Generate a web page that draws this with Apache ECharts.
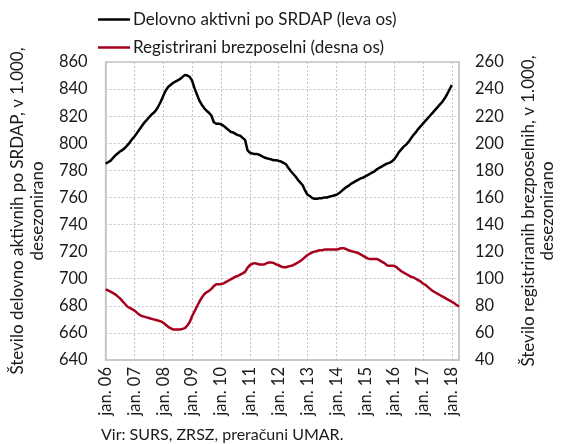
<!DOCTYPE html>
<html>
<head>
<meta charset="utf-8">
<script src="https://cdn.jsdelivr.net/npm/echarts@6/dist/echarts.min.js"></script>
<style>
  html, body { margin: 0; padding: 0; background: #fff; }
  #chart { width: 565px; height: 444px; }
</style>
</head>
<body>
<div id="chart"></div>
<script>
// monthly, jan. 2006 .. apr. 2018
const startYear = 2006;
const monthCount = 148;
const months = [];
for (let i = 0; i < monthCount; i++) {
  const y = startYear + Math.floor(i / 12);
  months.push((i % 12 === 0 ? 'jan. ' : (i % 12 + 1) + '. ') + String(y).slice(2));
}

// Delovno aktivni po SRDAP (leva os), v 1.000
const employed = [
  785, 786, 787, 789, 791, 792.5, 794, 795, 796.5, 798.5, 800.5, 803,
  805, 807.5, 810, 812.5, 815, 817, 819, 821, 822.5, 824.5, 827.5, 831,
  835, 839, 841.5, 843, 844.5, 845.5, 846.5, 847.5, 849, 850.5, 850, 849,
  846, 840.5, 836, 831.5, 828.5, 826, 824, 822.5, 820.5, 815.5, 814.5, 814.5,
  814, 813, 811.5, 810, 808.5, 808, 807, 806, 805.5, 804, 802.5, 795,
  793, 792.5, 792, 792, 791.5, 790.5, 789.5, 789, 788.5, 788, 787.5, 787.5,
  787, 786.5, 785.5, 784.5, 782, 779.5, 777.5, 775.5, 773, 771, 769, 765,
  762, 761, 759.5, 759, 759, 759.5, 759.5, 760, 760, 760.5, 761, 761.5,
  762, 763, 764.5, 766, 767.5, 768.5, 770, 771, 772, 773, 774, 774.5,
  775.5, 776.5, 777.5, 778.5, 779.5, 781, 782, 783, 784, 785, 785.5, 786.5,
  788, 790.5, 793.5, 795.5, 797.5, 799, 801, 803.5, 806, 808, 810.5, 812.5,
  814.5, 816.5, 818.5, 820.5, 822.5, 824.5, 826.5, 828.5, 830.5, 833, 836, 839.5,
  843
];

// Registrirani brezposelni (desna os), v 1.000
const unemployed = [
  92, 91.5, 90.5, 89.5, 88.5, 87, 85.5, 83.5, 81.5, 79.5, 78.5, 77.5,
  76.5, 75, 73.5, 72.5, 72, 71.5, 71, 70.5, 70, 69.5, 69, 68.5,
  67.5, 66, 64.5, 63.5, 62.5, 62.5, 62.5, 62.5, 63, 63.5, 65.5, 68,
  72.5, 76, 79.5, 83, 86, 88.5, 90, 91, 92.5, 94.5, 96, 96,
  96, 96.5, 97.5, 98.5, 99.5, 100.5, 101.5, 102, 103, 104, 105, 108,
  110, 111, 111.5, 111, 110.5, 110.5, 110.5, 111.5, 112, 112, 111.5, 110.5,
  110, 109, 108.5, 108.5, 109, 109.5, 110, 111, 112, 113, 114.5, 116,
  117.5, 118.5, 119.5, 120, 120.5, 121, 121, 121.5, 121.5, 121.5, 121.5, 121.5,
  121.5, 122, 122.5, 122.5, 122, 121, 120.5, 120, 119.5, 119, 118, 117,
  116, 115, 114.5, 114.5, 114.5, 114.5, 113.5, 112.5, 111.5, 110, 109.5, 109.5,
  109.5, 108.5, 107, 105.5, 104.5, 103.5, 102.5, 101.5, 101, 100, 99, 98,
  96.5, 95.5, 94, 92.5, 91, 90, 89, 88, 87, 86, 85, 84,
  83, 82, 80.5, 79.5
];

const font = 'Lato';
const txt = '#1a1a1a';

const chart = echarts.init(document.getElementById('chart'));
chart.setOption({
  animation: false,
  textStyle: { fontFamily: font },
  legend: {
    orient: 'vertical',
    left: 93,
    top: 6,
    itemWidth: 32,
    itemHeight: 2.5,
    itemGap: 11,
    icon: 'rect',
    textStyle: { fontFamily: font, fontSize: 17, color: txt, padding: [0, 0, 0, -2] },
    data: ['Delovno aktivni po SRDAP (leva os)', 'Registrirani brezposelni (desna os)']
  },
  title: {
    text: 'Vir: SURS, ZRSZ, preračuni UMAR.',
    left: 96,
    bottom: -4,
    textStyle: { fontFamily: font, fontSize: 16, fontWeight: 'normal', color: txt }
  },
  grid: {
    left: 100, right: 89, top: 62, bottom: 84,
    show: true, borderColor: '#c6c6c6', borderWidth: 1.5
  },
  xAxis: {
    type: 'category',
    boundaryGap: false,
    data: months,
    axisLine: { lineStyle: { color: '#c6c6c6', width: 1.5 } },
    axisTick: { show: false },
    axisLabel: {
      rotate: 90,
      interval: (i) => i % 12 === 0,
      fontFamily: font, fontSize: 16.5, color: txt, margin: 7
    },
    splitLine: {
      show: true,
      interval: (i) => i % 12 === 0,
      lineStyle: { color: '#c4c4c4', type: [2, 2], width: 1 }
    }
  },
  yAxis: [
    {
      type: 'value',
      min: 640, max: 860, interval: 20,
      name: 'Število delovno aktivnih po SRDAP, v 1.000,\ndesezonirano',
      nameLocation: 'middle',
      nameRotate: 90,
      nameGap: 55,
      nameTextStyle: { fontFamily: font, fontSize: 17, color: txt, lineHeight: 20 },
      axisLine: { show: true, lineStyle: { color: '#c6c6c6', width: 1.5 } },
      axisTick: { show: false },
      axisLabel: { fontFamily: font, fontSize: 16.5, color: txt, margin: 18 },
      splitLine: { lineStyle: { color: '#c4c4c4', type: [2, 2], width: 1 } }
    },
    {
      type: 'value',
      min: 40, max: 260, interval: 20,
      name: 'Število registriranih brezposelnih, v 1.000,\ndesezonirano',
      nameLocation: 'middle',
      nameRotate: 90,
      nameGap: 60,
      nameTextStyle: { fontFamily: font, fontSize: 17, color: txt, lineHeight: 19 },
      axisLine: { show: true, lineStyle: { color: '#c6c6c6', width: 1.5 } },
      axisTick: { show: false },
      axisLabel: { fontFamily: font, fontSize: 16.5, color: txt, margin: 16 },
      splitLine: { show: false }
    }
  ],
  series: [
    {
      name: 'Delovno aktivni po SRDAP (leva os)',
      type: 'line',
      yAxisIndex: 0,
      data: employed,
      symbol: 'none',
      color: '#000000',
      lineStyle: { color: '#000000', width: 2.5 }
    },
    {
      name: 'Registrirani brezposelni (desna os)',
      type: 'line',
      yAxisIndex: 1,
      data: unemployed,
      symbol: 'none',
      color: '#a6001e',
      lineStyle: { color: '#a6001e', width: 2.5 }
    }
  ]
});
</script>
</body>
</html>
